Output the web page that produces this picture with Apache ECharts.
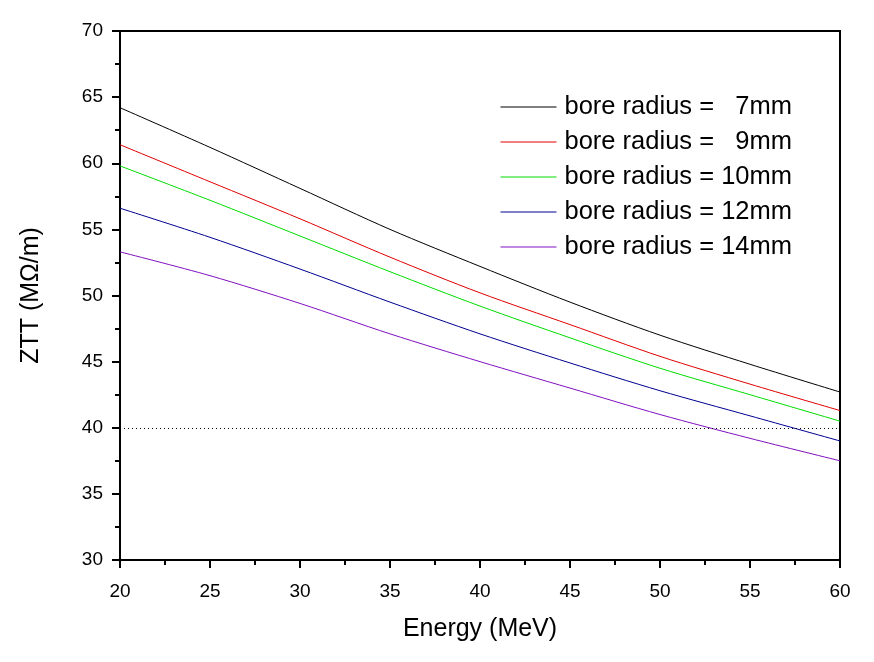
<!DOCTYPE html>
<html>
<head>
<meta charset="utf-8">
<script src="https://cdn.jsdelivr.net/npm/echarts@6/dist/echarts.min.js"></script>
<style>
html,body{margin:0;padding:0;background:#fff;}
#chart{width:874px;height:662px;}
</style>
</head>
<body>
<div id="chart"></div>
<script>
const energy = [20, 25, 30, 35, 40, 45, 50, 55, 60];
const seriesNames = [
  'bore radius =   7mm',
  'bore radius =   9mm',
  'bore radius = 10mm',
  'bore radius = 12mm',
  'bore radius = 14mm'
];
const r7  = [64.2, 61.2, 58.1, 55.0, 52.2, 49.5, 47.0, 44.8, 42.7];
const r9  = [61.4, 58.6, 55.8, 52.9, 50.2, 47.8, 45.4, 43.3, 41.3];
const r10 = [59.8, 57.2, 54.5, 51.8, 49.2, 46.8, 44.5, 42.5, 40.5];
const r12 = [56.6, 54.4, 52.0, 49.5, 47.1, 44.9, 42.8, 40.9, 39.0];
const r14 = [53.3, 51.5, 49.4, 47.1, 45.0, 43.0, 41.0, 39.2, 37.5];
const refLine = 40;
const colors = ['#000000', '#e00000', '#00dd00', '#000090', '#8010c0'];
const allData = [r7, r9, r10, r12, r14];

const chart = echarts.init(document.getElementById('chart'));
const series = allData.map((d, i) => ({
  name: seriesNames[i],
  type: 'line',
  data: d.map((v, j) => [energy[j], v]),
  symbol: 'none',
  smooth: 0.3,
  lineStyle: { color: colors[i], width: 1 },
  itemStyle: { color: colors[i] },
  z: 3,
  markLine: i === 0 ? {
    silent: true,
    symbol: 'none',
    label: { show: false },
    lineStyle: { color: '#000', type: [1, 3], width: 1 },
    data: [{ yAxis: refLine }]
  } : undefined
}));

chart.setOption({
  animation: false,
  backgroundColor: '#fff',
  textStyle: { fontFamily: 'Liberation Sans, Arial, sans-serif' },
  grid: {
    left: 120, top: 31, right: 34, bottom: 102,
    show: true, borderColor: '#000', borderWidth: 2, backgroundColor: 'transparent'
  },
  legend: {
    orient: 'vertical',
    left: 495, top: 89,
    itemWidth: 56, itemHeight: 24,
    itemGap: 9,
    itemStyle: { opacity: 0 },
    lineStyle: { width: 1 },
    textStyle: { fontSize: 25.5, color: '#000', fontFamily: 'Liberation Sans, Arial, sans-serif', padding: [0, 0, 0, 3] },
    data: seriesNames
  },
  xAxis: {
    type: 'value',
    min: 20, max: 60, interval: 5,
    name: 'Energy (MeV)',
    nameLocation: 'middle',
    nameGap: 57,
    nameTextStyle: { fontSize: 25, color: '#000' },
    axisLine: { show: true, lineStyle: { color: '#000', width: 2 } },
    axisTick: { show: true, length: 8, lineStyle: { color: '#000', width: 2 } },
    minorTick: { show: true, splitNumber: 2, length: 5, lineStyle: { color: '#000', width: 2 } },
    axisLabel: { fontSize: 19, color: '#000', margin: 22 },
    splitLine: { show: false }
  },
  yAxis: {
    type: 'value',
    min: 30, max: 70, interval: 5,
    name: 'ZTT (MΩ/m)',
    nameLocation: 'middle',
    nameGap: 76,
    nameTextStyle: { fontSize: 25, color: '#000' },
    axisLine: { show: true, lineStyle: { color: '#000', width: 2 } },
    axisTick: { show: true, length: 8, lineStyle: { color: '#000', width: 2 } },
    minorTick: { show: true, splitNumber: 2, length: 5, lineStyle: { color: '#000', width: 2 } },
    axisLabel: { fontSize: 19, color: '#000', margin: 17 },
    splitLine: { show: false }
  },
  series: series
});
</script>
</body>
</html>
